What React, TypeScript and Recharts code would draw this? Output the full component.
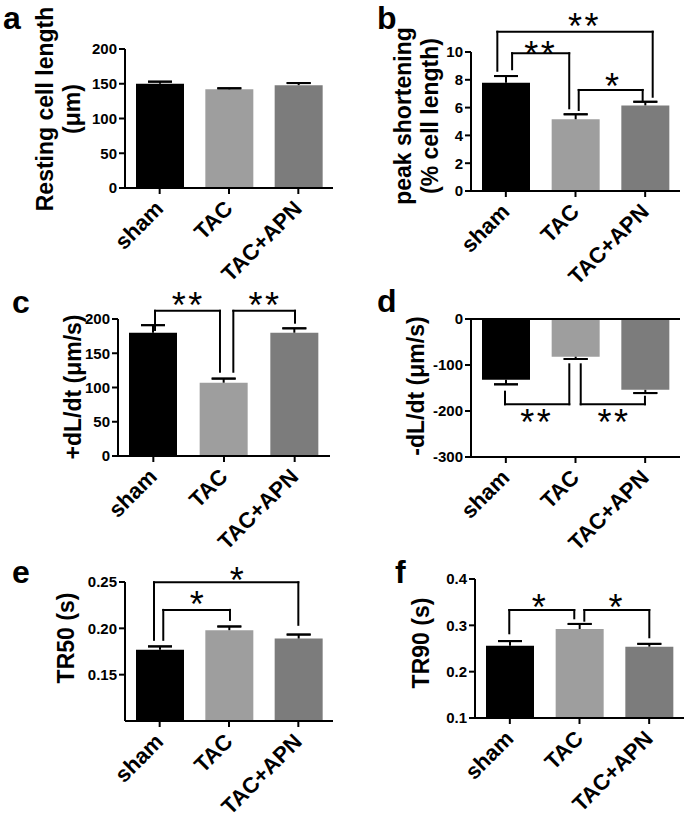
import React from 'react';
import { BarChart, Bar, Cell, XAxis, YAxis, ErrorBar, ReferenceLine, ReferenceDot } from 'recharts';

const FONT = "'Liberation Sans', Arial, Helvetica, sans-serif";

const GROUPS = ['sham', 'TAC', 'TAC+APN'];
const COLORS = ['#000000', '#9e9e9e', '#7c7c7c'];

// values (mean, SEM)
const RESTING = [150, 142, 148];
const RESTING_ERR = [3, 1.5, 3];
const PEAK = [7.78, 5.16, 6.16];
const PEAK_ERR = [0.49, 0.36, 0.26];
const PLUS_DLDT = [180, 107, 180];
const PLUS_DLDT_ERR = [11, 6, 6.4];
const MINUS_DLDT = [-132, -82, -154];
const MINUS_DLDT_ERR = [10, 5, 7];
const TR50 = [0.177, 0.198, 0.189];
const TR50_ERR = [0.0035, 0.004, 0.0043];
const TR90 = [0.256, 0.292, 0.254];
const TR90_ERR = [0.01, 0.011, 0.006];

// significance brackets: x in category units, y in data units
const BRACKETS_B = [
  { x1: 0.09, x2: 0.91, yl: 8.76, yt: 9.91, yr: 5.95 },
  { x1: 1.046, x2: 1.964, yl: 5.83, yt: 7.27, yr: 6.55 },
  { x1: -0.122, x2: 2.108, yl: 8.65, yt: 11.46, yr: 6.78 },
];
const STARS_B = [
  { x: 0.5, y: 10.38, t: '**' },
  { x: 1.543, y: 8.04, t: '*' },
  { x: 1.13, y: 12.37, t: '**' },
];
const BRACKETS_C = [
  { x1: 0.024, x2: 0.943, yl: 184, yt: 212, yr: 123 },
  { x1: 1.132, x2: 2.005, yl: 123, yt: 212, yr: 194.6 },
];
const STARS_C = [
  { x: 0.495, y: 230, t: '**' },
  { x: 1.58, y: 230, t: '**' },
];
const BRACKETS_D = [
  { x1: -0.012, x2: 0.911, yl: -158, yt: -185.4, yr: -98.5 },
  { x1: 1.075, x2: 1.997, yl: -98.5, yt: -185.4, yr: -169 },
];
const STARS_D = [
  { x: 0.443, y: -208.7, t: '**' },
  { x: 1.553, y: -208.7, t: '**' },
];
const BRACKETS_E = [
  { x1: 0.052, x2: 1.014, yl: 0.1876, yt: 0.2199, yr: 0.2091 },
  { x1: -0.082, x2: 2.0, yl: 0.1876, yt: 0.2497, yr: 0.2038 },
];
const STARS_E = [
  { x: 0.553, y: 0.2342, t: '*' },
  { x: 1.13, y: 0.2597, t: '*' },
];
const BRACKETS_F = [
  { x1: -0.008, x2: 0.925, yl: 0.2828, yt: 0.3331, yr: 0.3152 },
  { x1: 1.069, x2: 2.002, yl: 0.31, yt: 0.3331, yr: 0.2742 },
];
const STARS_F = [
  { x: 0.433, y: 0.3547, t: '*' },
  { x: 1.534, y: 0.3547, t: '*' },
];

const M_TOP = 50;
const Y_W = 60;
const X_H = 100;
const M_RIGHT = 6;

const AngledTick = (props: any) => {
  const { x, y, payload } = props;
  const ax = x + 5;
  const ay = y + 14;
  return (
    <text x={ax} y={ay} transform={`rotate(-45 ${ax} ${ay})`} textAnchor="end"
      fontFamily={FONT} fontWeight="bold" fontSize={22} fill="#000">
      {GROUPS[payload.value]}
    </text>
  );
};

const starShape = (t: string) => (p: any) => (
  <text x={p.cx} y={p.cy + 20} textAnchor="middle" fontFamily={FONT} fontSize={36}
    letterSpacing={2.5} fill="#000">{t}</text>
);

const line = { stroke: '#000', strokeWidth: 2 };

function Panel(props: any) {
  const { left, top, w, h, values, errs, domain, ticks, fmt, brackets, stars, zero } = props;
  const rows = GROUPS.map((g, i) => {
    const v = values[i];
    const e = errs[i];
    return {
      x: i,
      name: g,
      value: v,
      errLine: v < 0 ? [e, 0] : [0, e],
      errCap: v < 0 ? [e, -e] : [-e, e],
    };
  });
  return (
    <div style={{ position: 'absolute', left: left - Y_W, top: top - M_TOP }}>
      <BarChart width={Y_W + w + M_RIGHT} height={M_TOP + h + X_H} data={rows}
        margin={{ top: M_TOP, right: M_RIGHT, left: 0, bottom: 0 }}>
        <XAxis dataKey="x" type="number" domain={[-0.5, 2.5]} ticks={[0, 1, 2]} interval={0}
          height={X_H} tickSize={6} axisLine={line} tickLine={line} tick={<AngledTick />} />
        <YAxis type="number" domain={domain} ticks={ticks} allowDataOverflow width={Y_W}
          tickFormatter={fmt} tickSize={6} tickMargin={2} axisLine={line} tickLine={line}
          tick={{ fill: '#000', fontSize: 15, fontWeight: 'bold', fontFamily: FONT }} />
        <Bar dataKey="value" barSize={48} isAnimationActive={false}>
          {rows.map((r, i) => <Cell key={r.name} fill={COLORS[i]} />)}
          <ErrorBar dataKey="errLine" direction="y" width={0} stroke="#000" strokeWidth={2} />
          <ErrorBar dataKey="errCap" direction="y" width={12} stroke="#000" strokeWidth={2} />
        </Bar>
        {zero && <ReferenceLine y={0} stroke="#000" strokeWidth={2} />}
        {brackets.flatMap((b: any, i: number) => [
          <ReferenceLine key={`l${i}`} ifOverflow="visible" stroke="#000" strokeWidth={2} strokeLinecap="square"
            segment={[{ x: b.x1, y: b.yl }, { x: b.x1, y: b.yt }]} />,
          <ReferenceLine key={`h${i}`} ifOverflow="visible" stroke="#000" strokeWidth={2} strokeLinecap="square"
            segment={[{ x: b.x1, y: b.yt }, { x: b.x2, y: b.yt }]} />,
          <ReferenceLine key={`r${i}`} ifOverflow="visible" stroke="#000" strokeWidth={2} strokeLinecap="square"
            segment={[{ x: b.x2, y: b.yt }, { x: b.x2, y: b.yr }]} />,
        ])}
        {stars.map((s: any, i: number) => (
          <ReferenceDot key={`s${i}`} x={s.x} y={s.y} r={0} ifOverflow="visible" shape={starShape(s.t)} />
        ))}
      </BarChart>
    </div>
  );
}

const Letter = ({ x, y, t }: any) => (
  <div style={{ position: 'absolute', left: x, top: y, fontSize: 32, lineHeight: '26px', fontWeight: 'bold' }}>{t}</div>
);

const YTitle = ({ cx, cy, children }: any) => (
  <div style={{
    position: 'absolute', left: cx, top: cy, transform: 'translate(-50%, -50%) rotate(-90deg)',
    whiteSpace: 'nowrap', textAlign: 'center', fontSize: 23, lineHeight: '27px', fontWeight: 'bold',
  }}>{children}</div>
);

export default function App() {
  return (
    <div style={{ position: 'absolute', left: 0, top: 0, width: 685, height: 818, background: '#fff', fontFamily: FONT, color: '#000', overflow: 'hidden' }}>
      <Panel left={125} top={49} w={208} h={139} values={RESTING} errs={RESTING_ERR}
        domain={[0, 200]} ticks={[0, 50, 100, 150, 200]} fmt={(v: number) => `${v}`} brackets={[]} stars={[]} />
      <Panel left={471} top={52} w={209} h={139} values={PEAK} errs={PEAK_ERR}
        domain={[0, 10]} ticks={[0, 2, 4, 6, 8, 10]} fmt={(v: number) => `${v}`} brackets={BRACKETS_B} stars={STARS_B} />
      <Panel left={118} top={319} w={212} h={137} values={PLUS_DLDT} errs={PLUS_DLDT_ERR}
        domain={[0, 200]} ticks={[0, 50, 100, 150, 200]} fmt={(v: number) => `${v}`} brackets={BRACKETS_C} stars={STARS_C} />
      <Panel left={471} top={319} w={209} h={138} values={MINUS_DLDT} errs={MINUS_DLDT_ERR} zero
        domain={[-300, 0]} ticks={[-300, -200, -100, 0]} fmt={(v: number) => `${v}`} brackets={BRACKETS_D} stars={STARS_D} />
      <Panel left={125} top={582} w={208} h={139} values={TR50} errs={TR50_ERR}
        domain={[0.1, 0.25]} ticks={[0.15, 0.2, 0.25]} fmt={(v: number) => v.toFixed(2)} brackets={BRACKETS_E} stars={STARS_E} />
      <Panel left={475} top={579} w={209} h={139} values={TR90} errs={TR90_ERR}
        domain={[0.1, 0.4]} ticks={[0.1, 0.2, 0.3, 0.4]} fmt={(v: number) => v.toFixed(1)} brackets={BRACKETS_F} stars={STARS_F} />

      <YTitle cx={59} cy={109}>Resting cell length<br />(μm)</YTitle>
      <YTitle cx={417} cy={116}>peak shortening<br />(% cell length)</YTitle>
      <YTitle cx={73} cy={387}>+dL/dt (μm/s)</YTitle>
      <YTitle cx={416} cy={386}>-dL/dt (μm/s)</YTitle>
      <YTitle cx={66} cy={638}>TR50 (s)</YTitle>
      <YTitle cx={421} cy={643}>TR90 (s)</YTitle>

      <Letter x={3} y={5} t="a" />
      <Letter x={377} y={5} t="b" />
      <Letter x={12} y={289} t="c" />
      <Letter x={377} y={288} t="d" />
      <Letter x={12} y={559} t="e" />
      <Letter x={395} y={559} t="f" />
    </div>
  );
}
